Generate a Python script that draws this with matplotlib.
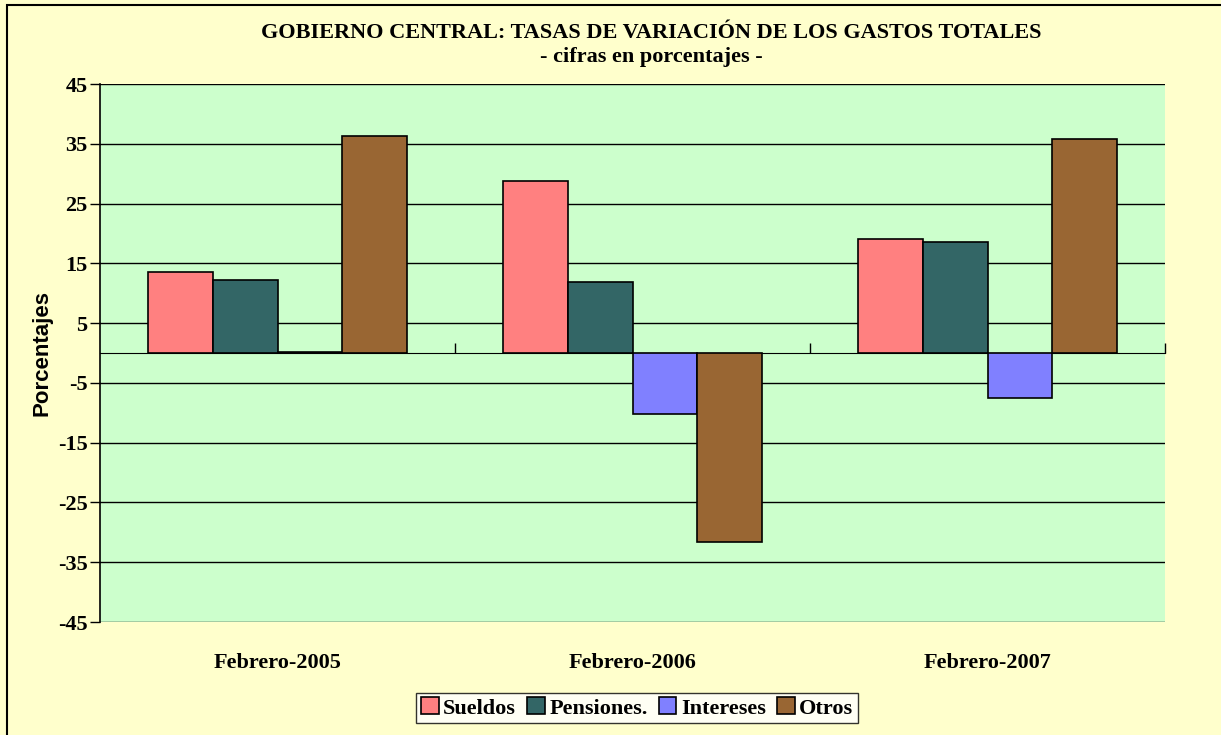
import matplotlib
matplotlib.use("Agg")

import numpy as np
import matplotlib.pyplot as plt
from matplotlib.patches import Rectangle

# datos
categorias = ["Febrero-2005", "Febrero-2006", "Febrero-2007"]
series = ["Sueldos", "Pensiones.", "Intereses", "Otros"]
sueldos = [13.5, 28.8, 19.1]
pensiones = [12.2, 11.9, 18.6]
intereses = [0.2, -10.2, -7.6]
otros = [36.3, -31.7, 35.8]
yticks = list(range(-45, 46, 10))

valores = [sueldos, pensiones, intereses, otros]
colores = ["#FF8080", "#336666", "#8080FF", "#996633"]

serif = ["Liberation Serif", "DejaVu Serif"]

fig = plt.figure(figsize=(12.21, 7.35), dpi=100, facecolor="#FFFFCC")
W, H = 1221, 735
ax = fig.add_axes([100 / W, (H - 622) / H, 1065 / W, 538 / H])
ax.set_facecolor("#CCFFCC")

# borde exterior (solo se ven arriba e izquierda)
fig.patches.append(Rectangle((7 / W, -0.1), 1.2, 1.1 - 5 / H, transform=fig.transFigure,
                             fill=False, edgecolor="black", linewidth=1.5))

x = np.arange(len(categorias))
ancho = 0.182
for i, (nombre, vals) in enumerate(zip(series, valores)):
    ax.bar(x + (i - 1.5) * ancho, vals, width=ancho, color=colores[i],
           edgecolor="black", linewidth=1.2, label=nombre, zorder=3)

ax.set_xlim(-0.5, 2.5)
ax.set_ylim(-45, 45)
ax.set_yticks(yticks)
ax.set_yticklabels([str(t) for t in yticks], fontfamily=serif,
                   fontweight="bold", fontsize=16)
ax.tick_params(axis="y", direction="out", length=7, width=1, pad=2)
ax.yaxis.grid(True, color="black", linewidth=1)
ax.set_axisbelow(True)

for s in ["top", "right", "bottom"]:
    ax.spines[s].set_visible(False)
ax.spines["left"].set_linewidth(1.2)

ax.set_xticks(x)
ax.set_xticklabels(categorias, fontfamily=serif, fontweight="bold", fontsize=16)
ax.tick_params(axis="x", length=0, pad=22)

# eje de categorias en cero
sec = ax.secondary_xaxis(0.5)
sec.set_xticks([0.5, 1.5, 2.5])
sec.set_xticklabels([])
sec.tick_params(axis="x", direction="out", length=7, width=1, color="black")
sec.spines["bottom"].set_color("#777777")
sec.spines["bottom"].set_linewidth(1.5)

ax.set_ylabel("Porcentajes", fontfamily=["Liberation Sans", "DejaVu Sans"],
              fontweight="bold", fontsize=16, labelpad=4)

fig.text(651 / W, 1 - 33 / H, "GOBIERNO CENTRAL: TASAS DE VARIACIÓN DE LOS GASTOS TOTALES",
         ha="center", va="center", fontfamily=serif, fontweight="bold", fontsize=16)
fig.text(651 / W, 1 - 57 / H, "- cifras en porcentajes -",
         ha="center", va="center", fontfamily=serif, fontweight="bold", fontsize=16)

leg = fig.legend(loc="center", bbox_to_anchor=(637 / W, 1 - 708 / H), ncol=4,
                 prop={"family": serif, "weight": "bold", "size": 16},
                 frameon=True, fancybox=False, edgecolor="black",
                 handlelength=0.8, handleheight=0.8, handletextpad=0.2,
                 columnspacing=0.5, borderpad=0.2, borderaxespad=0)
leg.get_frame().set_linewidth(1)

fig.savefig("out.png", dpi=100, facecolor=fig.get_facecolor())
